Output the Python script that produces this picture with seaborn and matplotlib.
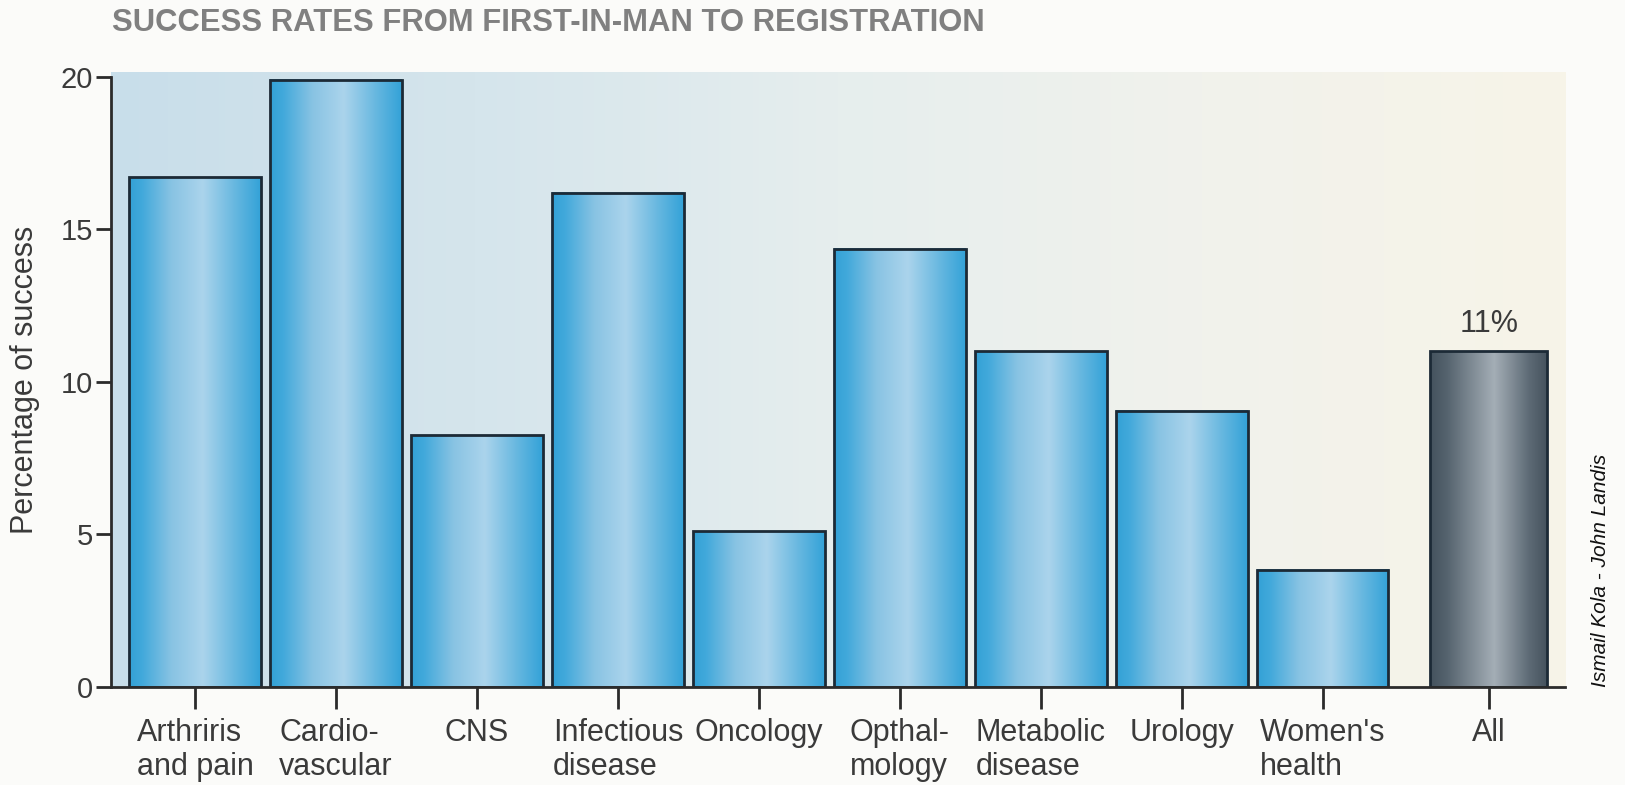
import numpy as np
import pandas as pd
import seaborn as sns
import matplotlib.pyplot as plt
from matplotlib.colors import LinearSegmentedColormap

##datos
categorias = ["Arthriris\nand pain", "Cardio-\nvascular", "CNS", "Infectious\ndisease",
              "Oncology", "Opthal-\nmology", "Metabolic\ndisease", "Urology",
              "Women's\nhealth", "All"]
exito = [16.7, 19.9, 8.25, 16.2, 5.1, 14.35, 11.0, 9.05, 3.85, 11.0]
grupo = ["area"] * 9 + ["total"]
etiqueta_total = "11%"
marcas_y = [0, 5, 10, 15, 20]

sns.set_theme(style="white")
plt.rcParams['font.family'] = ['Liberation Sans', 'DejaVu Sans']

df = pd.DataFrame({"categoria": categorias, "exito": exito, "grupo": grupo})

fig = plt.figure(figsize=(16.25, 7.85), dpi=100, facecolor="#fbfbf9")
ax = fig.add_axes([0.0683, 0.1248, 0.8948, 0.7835])

sns.barplot(data=df, x="categoria", y="exito", hue="grupo", dodge=False,
            palette={"area": "#3aa6da", "total": "#5a6874"}, width=0.935,
            edgecolor="#1c2a36", linewidth=2, legend=False, ax=ax, zorder=3)

##degradados de las barras
azul = LinearSegmentedColormap.from_list("azul", [(0, "#33a1d6"), (0.1, "#42a9db"),
                                                  (0.32, "#88c3e3"), (0.56, "#abd4ec"),
                                                  (0.8, "#68b8e0"), (1, "#33a2d8")])
gris = LinearSegmentedColormap.from_list("gris", [(0, "#44525d"), (0.15, "#56646f"),
                                                  (0.55, "#a4aeb6"), (0.85, "#5d6a75"),
                                                  (1, "#46535e")])

barras = [p for p in ax.patches if not np.isnan(p.get_height()) and p.get_height() > 0]
barras.sort(key=lambda p: p.get_x())

##la barra "All" es mas angosta y esta separada
total = barras[-1]
centro = total.get_x() + total.get_width() / 2 + 0.18
total.set_width(0.83)
total.set_x(centro - 0.415)

for i, b in enumerate(barras):
    x, w, h = b.get_x(), b.get_width(), b.get_height()
    cmap = gris if i == len(barras) - 1 else azul
    ax.imshow(np.linspace(0, 1, 256).reshape(1, -1), extent=[x, x + w, 0, h],
              aspect='auto', cmap=cmap, zorder=2.9, interpolation='bicubic')
    b.set_facecolor('none')

##fondo del area del grafico
fondo = LinearSegmentedColormap.from_list("fondo", ["#c8deea", "#d5e5ec", "#e6eeee", "#f1f2ec", "#f7f4e8"])
ax.imshow(np.linspace(0, 1, 256).reshape(1, -1), extent=[0, 1, 0, 1], transform=ax.transAxes,
          aspect='auto', cmap=fondo, zorder=0)

ax.set_xlim(-0.596, 9.72)
ax.set_ylim(0, 20.15)

ticks = list(ax.get_xticks())
ticks[-1] = centro
ax.set_xticks(ticks, labels=categorias)
ax.set_yticks(marcas_y)
for lbl in ax.get_xticklabels():
    lbl.set_multialignment('left')

sns.despine(ax=ax)
ax.spines['left'].set_bounds(0, 20)
for s in ['left', 'bottom']:
    ax.spines[s].set_linewidth(2)
    ax.spines[s].set_color("#2b2b2b")
    ax.spines[s].set_zorder(4)

ax.tick_params(axis='y', left=True, direction='out', length=11, width=2, color='#2b2b2b',
               labelsize=21, labelcolor='#3a3a3a', pad=2)
ax.tick_params(axis='x', bottom=True, direction='out', length=16, width=2, color='#2b2b2b',
               labelsize=22, labelcolor='#3a3a3a', pad=6)

ax.set_xlabel("")
ax.set_ylabel("Percentage of success", fontsize=22, color='#3a3a3a')
ax.yaxis.set_label_coords(-0.049, 0.5)

ax.annotate(etiqueta_total, xy=(centro, exito[-1]), xytext=(0, 9), textcoords='offset points',
            ha='center', va='bottom', fontsize=22, color='#3a3a3a')

fig.text(0.069, 0.971, "SUCCESS RATES FROM FIRST-IN-MAN TO REGISTRATION", fontsize=22.3,
         fontweight='bold', color='#808080', va='center', ha='left')
fig.text(0.985, 0.274, "Ismail Kola - John Landis", rotation=90, style='italic', fontsize=15,
         ha='center', va='center', color='#111111')

fig.savefig("out.png", dpi=100, facecolor=fig.get_facecolor())
